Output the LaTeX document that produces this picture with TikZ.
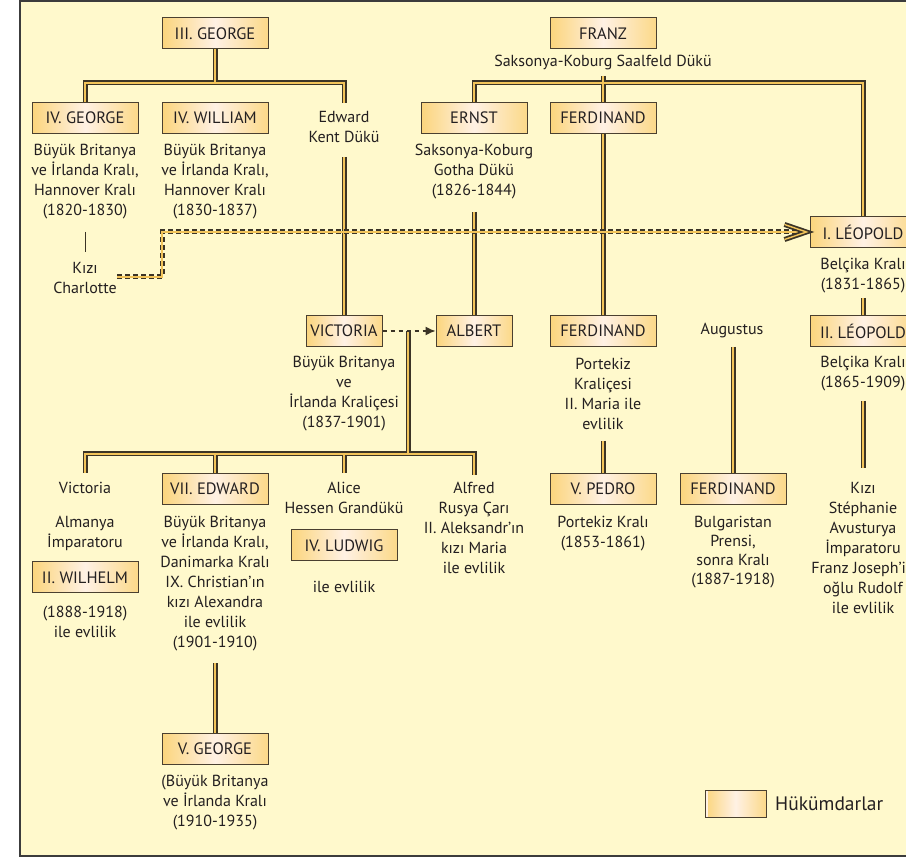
\documentclass[tikz,border=0pt]{standalone}
\usepackage{fontspec}
\setmainfont{PT Sans}
\usetikzlibrary{arrows.meta,calc}
\definecolor{bgy}{HTML}{FFF9CC}
\definecolor{framec}{HTML}{3C3C3C}
\definecolor{txtc}{HTML}{231F20}
\definecolor{linedark}{HTML}{3B3426}
\definecolor{linegold}{HTML}{F2C45A}
\definecolor{boxgold}{HTML}{FBD57C}
\definecolor{boxlight}{HTML}{FFF1E4}
\definecolor{boxborder}{HTML}{4A4030}
\tikzset{
  txt/.style={align=center, inner sep=0pt, text=txtc, font=\fontsize{16}{20}\selectfont},
  ruler/.style={draw=boxborder, line width=1pt, minimum width=106pt, minimum height=31pt,
    inner sep=0pt, left color=boxgold, right color=boxgold!90!white, middle color=boxlight,
    text=txtc, font=\fontsize{16.5}{20}\selectfont},
  rulers/.style={ruler, minimum width=76pt},
  darkline/.style={draw=linedark, line width=5pt, line join=miter, line cap=butt},
  goldline/.style={draw=linegold, line width=2pt, line join=miter, line cap=butt},
  darkdash/.style={draw=linedark, line width=5pt, line join=miter, dash pattern=on 5pt off 3pt},
  golddash/.style={draw=linegold, line width=1.8pt, line join=miter},
  thinline/.style={draw=linedark, line width=1pt},
  marriage/.style={draw=linedark, line width=1.3pt, dash pattern=on 4pt off 4pt},
}
\newcommand\solidlinks[1]{%
  % III. George
  \draw[#1] (g3.south) -- (g3.south |- gbar);
  \draw[#1] (g4.north) -- (g4.north |- gbar) -- (edtop |- gbar) -- (edtop);
  % Franz
  \draw[#1] (ftop) -- (ferd1.north);
  \draw[#1] (ernst.north) -- (ernst.north |- fbar) -- (leo1.north |- fbar) -- (leo1.north);
  % Edward -> Victoria
  \draw[#1] (edbot) -- (vic.north);
  % Ernst -> Albert
  \draw[#1] (ernbot) -- (alb.north);
  % Ferdinand line
  \draw[#1] (ferd1.south) -- (ferd2.north);
  \draw[#1] (f2bot) -- (pedro.north);
  % Augustus
  \draw[#1] (augbot) -- (ferd3.north);
  % Leopold
  \draw[#1] (l1bot) -- (leo2.north);
  \draw[#1] (l2bot) -- (l2end);
  % Victoria children
  \draw[#1] (vmar) -- (vmar |- cbar);
  \draw[#1] (victop) -- (victop |- cbar) -- (alftop |- cbar) -- (alftop);
  \draw[#1] (ed7.north) -- (ed7.north |- cbar);
  \draw[#1] (alitop) -- (alitop |- cbar);
  % Edward VII -> George V
  \draw[#1] (e7bot) -- (g5.north);
}
\begin{document}
\begin{tikzpicture}[x=1pt,y=-1pt]
\useasboundingbox (0,0) rectangle (906,858);
\clip (0,0) rectangle (906,858);
\fill[white] (0,0) rectangle (906,858);
\fill[bgy] (20,1) rectangle (930,856);
\draw[framec, line width=2pt] (930,1) -- (20,1) -- (20,856) -- (930,856);

% ruler boxes
\node[ruler] (g3) at (215,33.5) {III. GEORGE};
\node[ruler] (g4) at (85,118) {IV. GEORGE};
\node[ruler] (w4) at (215,118) {IV. WILLIAM};
\node[ruler] (franz) at (603,33.5) {FRANZ};
\node[ruler] (ernst) at (474,118) {ERNST};
\node[ruler] (ferd1) at (603,118) {FERDINAND};
\node[ruler] (leo1) at (863,232) {I. LÉOPOLD};
\node[rulers] (vic) at (344,331) {VICTORIA};
\node[rulers] (alb) at (474,331) {ALBERT};
\node[ruler] (ferd2) at (603,331) {FERDINAND};
\node[ruler] (leo2) at (863,331) {II. LÉOPOLD};
\node[ruler] (pedro) at (603,489) {V. PEDRO};
\node[ruler] (ferd3) at (733,489) {FERDINAND};
\node[ruler] (ed7) at (215,489) {VII. EDWARD};
\node[ruler] (wil) at (85,577.5) {II. WILHELM};
\node[ruler] (lud) at (344,545.5) {IV. LUDWIG};
\node[ruler] (g5) at (215,748.5) {V. GEORGE};

% texts
\node[txt] (edw) at (344,127) {Edward\\Kent Dükü};
\node[txt] (franzt) at (603,63) {Saksonya-Koburg Saalfeld Dükü};
\node[txt] (g4t) at (85,182) {Büyük Britanya\\ve İrlanda Kralı,\\Hannover Kralı\\(1820-1830)};
\node[txt] (w4t) at (215,182) {Büyük Britanya\\ve İrlanda Kralı,\\Hannover Kralı\\(1830-1837)};
\node[txt] (charl) at (85,278) {Kızı\\Charlotte};
\node[txt] (ernstt) at (474,172) {Saksonya-Koburg\\Gotha Dükü\\(1826-1844)};
\node[txt] (leo1t) at (863,276) {Belçika Kralı\\(1831-1865)};
\node[txt] (aug) at (732,331) {Augustus};
\node[txt] (vict) at (344,394) {Büyük Britanya\\ve\\İrlanda Kraliçesi\\(1837-1901)};
\node[txt] (ferd2t) at (603,394) {Portekiz\\Kraliçesi\\II. Maria ile\\evlilik};
\node[txt] (leo2t) at (863,374) {Belçika Kralı\\(1865-1909)};
\node[txt] (pedrot) at (603,534) {Portekiz Kralı\\(1853-1861)};
\node[txt, font=\fontsize{16}{19}\selectfont] (ferd3t) at (733,552) {Bulgaristan\\Prensi,\\sonra Kralı\\(1887-1918)};
\node[txt] (steph) at (863,548) {Kızı\\Stéphanie\\Avusturya\\İmparatoru\\Franz Joseph’in\\oğlu Rudolf\\ile evlilik};
\node[txt] (vicd) at (85,488) {Victoria};
\node[txt] (almt) at (85,533) {Almanya\\İmparatoru};
\node[txt] (wilt) at (85,621.5) {(1888-1918)\\ile evlilik};
\node[txt] (ed7t) at (215,584) {Büyük Britanya\\ve İrlanda Kralı,\\Danimarka Kralı\\IX. Christian’ın\\kızı Alexandra\\ile evlilik\\(1901-1910)};
\node[txt] (g5t) at (215,803) {(Büyük Britanya\\ve İrlanda Kralı\\(1910-1935)};
\node[txt] (alice) at (344,498) {Alice\\Hessen Grandükü};
\node[txt] (ludt) at (344,587) {ile evlilik};
\node[txt] (alf) at (474,528) {Alfred\\Rusya Çarı\\II. Aleksandr’ın\\kızı Maria\\ile evlilik};

% legend
\node[ruler, minimum width=61pt, minimum height=27pt] (leg) at (735.5,803.5) {};
\draw[boxlight, line width=1.2pt] ([xshift=2.5pt,yshift=1pt]leg.south west) -- ([xshift=2.5pt,yshift=-1pt]leg.north west);
\node[txt, anchor=west, font=\fontsize{19.5}{22}\selectfont] (legt) at (775,804) {Hükümdarlar};

% junction coordinates
\coordinate (gbar) at (215,83);
\coordinate (edtop) at (344,103);
\coordinate (fbar) at (603,83);
\coordinate (ftop) at (603,76);
\coordinate (edbot) at (344,157);
\coordinate (ernbot) at (474,212);
\coordinate (f2bot) at (603,441);
\coordinate (augbot) at (733,347);
\coordinate (l1bot) at (863,298);
\coordinate (l2bot) at (863,401);
\coordinate (l2end) at (863,468);
\coordinate (vmar) at (408,331);
\coordinate (cbar) at (408,454);
\coordinate (victop) at (85,473);
\coordinate (alitop) at (344,473);
\coordinate (alftop) at (474,475);
\coordinate (e7bot) at (215,663);
\coordinate (thtop) at (85,232);
\coordinate (thbot) at (85,252);
\coordinate (dstart) at (117,277);
\coordinate (dturn) at (162,277);
\coordinate (dend) at (805,232);

\solidlinks{darkline}
\solidlinks{goldline}

% Charlotte line
\draw[thinline] (thtop) -- (thbot);

% Charlotte - Leopold marriage
\draw[darkdash] (dstart) -- (dturn) -- (dturn |- dend) -- (dend);
\draw[golddash] (dstart) -- (dturn) -- (dturn |- dend) -- (dend);
\draw[darkline] ([xshift=-25pt,yshift=-7.5pt]leo1.west) -- ([xshift=-3pt]leo1.west) -- ([xshift=-25pt,yshift=7.5pt]leo1.west);
\draw[goldline, line width=1.4pt] ([xshift=-25pt,yshift=-7.5pt]leo1.west) -- ([xshift=-3pt]leo1.west) -- ([xshift=-25pt,yshift=7.5pt]leo1.west);

% Victoria - Albert marriage
\draw[marriage, -{Latex[length=10pt,width=9pt]}] (vic.east) -- (alb.west);
\end{tikzpicture}
\end{document}
